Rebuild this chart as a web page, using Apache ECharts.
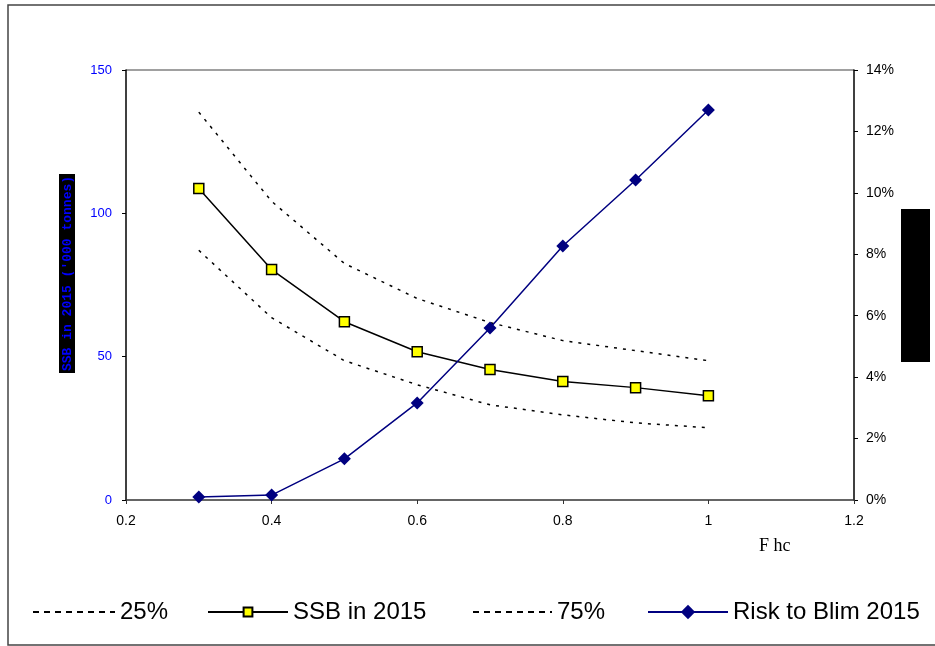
<!DOCTYPE html>
<html>
<head>
<meta charset="utf-8">
<script src="https://cdn.jsdelivr.net/npm/echarts@6/dist/echarts.min.js"></script>
<style>
html,body{margin:0;padding:0;background:#fff;}
#chart{width:935px;height:646px;}
</style>
</head>
<body>
<div id="chart"></div>
<script>
var fhc = [0.3, 0.4, 0.5, 0.6, 0.7, 0.8, 0.9, 1.0];
var p25 = [87.1, 63.6, 48.6, 40.2, 33.2, 29.7, 26.9, 25.2];
var ssb = [108.7, 80.4, 62.2, 51.7, 45.5, 41.3, 39.2, 36.4];
var p75 = [135.3, 104.2, 82.5, 70.3, 61.9, 55.6, 52.1, 48.6];
var risk = [0.0010, 0.0016, 0.0134, 0.0316, 0.0560, 0.0827, 0.1042, 0.1270];
var legendNames = ['25%', 'SSB in 2015', '75%', 'Risk to Blim 2015'];

function pairs(ys){ return fhc.map(function(x,i){ return [x, ys[i]]; }); }

var chart = echarts.init(document.getElementById('chart'));
var legendFont = {fontFamily:'Arial, Liberation Sans', fontSize:24, color:'#000'};
function lg(name, left, w, h, extra){
  var o = {data:[name], left:left, top:600, itemWidth:w, itemHeight:h, textStyle:legendFont, selectedMode:false, padding:0};
  if (extra) for (var k in extra) o[k] = extra[k];
  return o;
}
var dashLegend = {itemStyle:{opacity:0, borderWidth:0}, lineStyle:{type:[6,5], width:2, color:'#000'}};
chart.setOption({
  animation:false,
  backgroundColor:'#fff',
  grid:{left:126, right:81, top:70, bottom:146},
  legend:[
    lg(legendNames[0], 32, 82, 14, dashLegend),
    lg(legendNames[1], 207, 80, 11),
    lg(legendNames[2], 472, 79, 14, dashLegend),
    lg(legendNames[3], 647, 80, 18)
  ],
  xAxis:{type:'value', min:0.2, max:1.2, interval:0.2,
    axisLine:{show:true, onZero:false, lineStyle:{color:'#333', width:1.5}},
    axisTick:{show:true, length:4, lineStyle:{color:'#333'}},
    axisLabel:{color:'#000', fontSize:14, fontFamily:'Arial', margin:14},
    splitLine:{show:false}},
  yAxis:[
    {type:'value', min:0, max:150, interval:50, position:'left',
     axisLine:{show:true, lineStyle:{color:'#000', width:1.5}},
     axisTick:{show:true, length:4, lineStyle:{color:'#000'}},
     axisLabel:{color:'#0000ff', fontSize:13, fontFamily:'Arial', margin:14},
     splitLine:{show:false}},
    {type:'value', min:0, max:0.14, interval:0.02, position:'right',
     axisLine:{show:true, lineStyle:{color:'#000', width:1.5}},
     axisTick:{show:true, length:4, inside:false, lineStyle:{color:'#000'}},
     axisLabel:{color:'#000', fontSize:14, fontFamily:'Arial', margin:12,
       formatter:function(v){ return Math.round(v*100) + '%'; }},
     splitLine:{show:false}}
  ],
  graphic:[
    {type:'rect', shape:{x:8, y:5, width:940, height:640}, style:{fill:'none', stroke:'#444', lineWidth:1.5}, silent:true, z:-1},
    {type:'line', shape:{x1:126, y1:70, x2:854, y2:70}, style:{stroke:'#808080', lineWidth:1.5}, silent:true},
    {type:'rect', shape:{x:901, y:209, width:29, height:153}, style:{fill:'#000'}, silent:true},
    {type:'text', x:59, y:373, rotation:Math.PI/2,
     style:{text:"SSB in 2015 ('000 tonnes)", font:'bold 13px "Liberation Mono", "DejaVu Sans Mono", monospace',
       fill:'#0000ff', backgroundColor:'#000', padding:[2,2,1,2], align:'left', verticalAlign:'top'}},
    {type:'text', left:759, top:537, style:{text:'F hc', font:'18px "Liberation Serif", "Times New Roman", serif', fill:'#000'}}
  ],
  series:[
    {name:legendNames[0], type:'line', yAxisIndex:0, data:pairs(p25), symbol:'none',
     lineStyle:{color:'#000', width:1.5, type:[3,6]}, itemStyle:{color:'#000'}},
    {name:legendNames[1], type:'line', yAxisIndex:0, data:pairs(ssb), symbol:'rect', symbolSize:10,
     lineStyle:{color:'#000', width:1.5}, itemStyle:{color:'#ffff00', borderColor:'#000', borderWidth:1.5}},
    {name:legendNames[2], type:'line', yAxisIndex:0, data:pairs(p75), symbol:'none',
     lineStyle:{color:'#000', width:1.5, type:[3,6]}, itemStyle:{color:'#000'}},
    {name:legendNames[3], type:'line', yAxisIndex:1, data:pairs(risk), symbol:'diamond', symbolSize:13,
     lineStyle:{color:'#000080', width:1.5}, itemStyle:{color:'#000080'}}
  ]
});
</script>
</body>
</html>
